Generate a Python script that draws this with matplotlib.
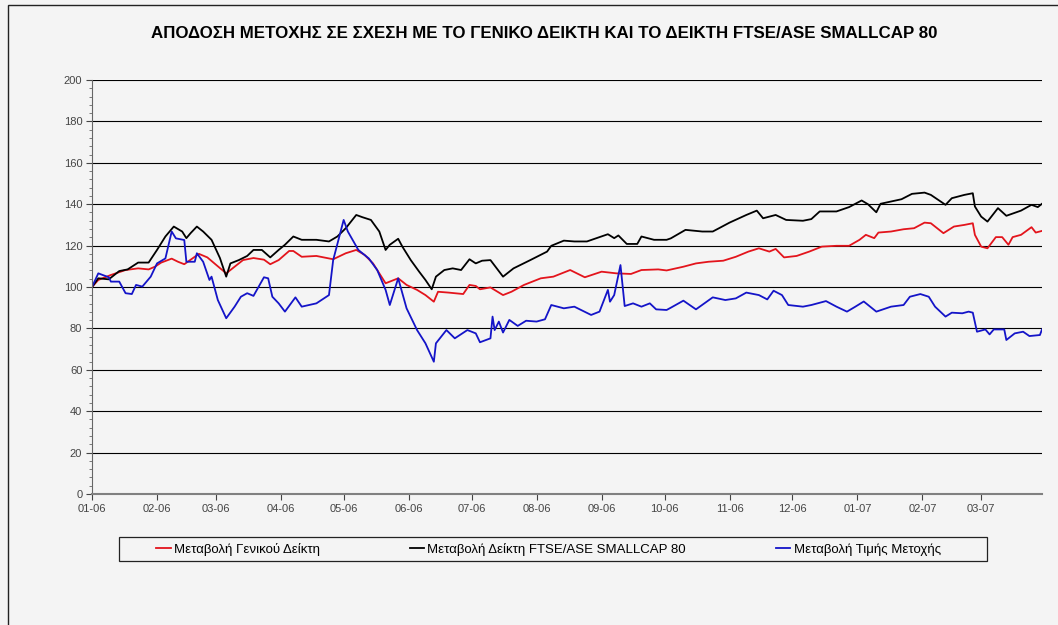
import pandas as pd
import numpy as np
import matplotlib
matplotlib.use("Agg")
import matplotlib.pyplot as plt
import matplotlib.dates as mdates
from matplotlib.ticker import MultipleLocator
from matplotlib.patches import Rectangle

# Δεδομένα (εκτίμηση από το γράφημα) - βάση 100 την 01/01/2006
genikos_dates = [
    "2006-01-01", "2006-01-04", "2006-01-10", "2006-01-17", "2006-01-23", "2006-01-28",
    "2006-01-31", "2006-02-03", "2006-02-08", "2006-02-11", "2006-02-14", "2006-02-19",
    "2006-02-21", "2006-02-25", "2006-03-02", "2006-03-06", "2006-03-10", "2006-03-14",
    "2006-03-19", "2006-03-24", "2006-03-27", "2006-03-31", "2006-04-05", "2006-04-07",
    "2006-04-11", "2006-04-18", "2006-04-26", "2006-05-02", "2006-05-07", "2006-05-11",
    "2006-05-15", "2006-05-18", "2006-05-21", "2006-05-23", "2006-05-27", "2006-05-31",
    "2006-06-05", "2006-06-09", "2006-06-13", "2006-06-15", "2006-06-20", "2006-06-27",
    "2006-06-30", "2006-07-03", "2006-07-05", "2006-07-10", "2006-07-16", "2006-07-20",
    "2006-07-26", "2006-08-03", "2006-08-09", "2006-08-17", "2006-08-24", "2006-09-01",
    "2006-09-08", "2006-09-15", "2006-09-20", "2006-09-28", "2006-10-02", "2006-10-10",
    "2006-10-16", "2006-10-22", "2006-10-29", "2006-11-04", "2006-11-10", "2006-11-15",
    "2006-11-20", "2006-11-23", "2006-11-27", "2006-12-03", "2006-12-09", "2006-12-15",
    "2006-12-22", "2006-12-28", "2007-01-02", "2007-01-05", "2007-01-09", "2007-01-11",
    "2007-01-17", "2007-01-23", "2007-01-28", "2007-02-02", "2007-02-05", "2007-02-11",
    "2007-02-16", "2007-02-21", "2007-02-25", "2007-02-26", "2007-03-01", "2007-03-04",
    "2007-03-08", "2007-03-11", "2007-03-14", "2007-03-16", "2007-03-20", "2007-03-25",
    "2007-03-27", "2007-03-30",
]
genikos = [
    100, 103.4, 105.8, 108.2, 109, 108.5,
    109.8, 111.8, 113.7, 112.2, 111, 114.6,
    116, 114.3, 110, 106.6, 109.8, 113,
    114, 113.2, 111, 113, 117.4, 117.4,
    114.6, 115, 113.4, 116.3, 117.9, 115.5,
    111.4, 106.6, 101.8, 102.6, 104.2, 101,
    98.6, 96.1, 92.9, 97.7, 97.3, 96.6,
    101, 100.5, 98.9, 99.8, 96.1, 97.7,
    101, 104.2, 105, 108.2, 104.7, 107.4,
    106.6, 106.3, 108.2, 108.5, 108, 109.8,
    111.4, 112.2, 112.7, 114.6, 117.1, 118.7,
    117.1, 118.4, 114.3, 115, 117.1, 119.5,
    119.9, 119.9, 122.8, 125.2, 123.6, 126.3,
    126.8, 127.9, 128.4, 131.1, 130.8, 126,
    129.2, 130, 130.8, 125.2, 119.5, 118.7,
    124.1, 124.1, 120.4, 124.1, 125.2, 128.9,
    126.3, 127.1,
]

smallcap_dates = [
    "2006-01-01", "2006-01-04", "2006-01-09", "2006-01-14", "2006-01-18", "2006-01-23",
    "2006-01-28", "2006-02-01", "2006-02-05", "2006-02-09", "2006-02-13", "2006-02-15",
    "2006-02-17", "2006-02-20", "2006-02-23", "2006-02-27", "2006-03-03", "2006-03-06",
    "2006-03-08", "2006-03-12", "2006-03-16", "2006-03-19", "2006-03-23", "2006-03-27",
    "2006-03-31", "2006-04-03", "2006-04-07", "2006-04-11", "2006-04-18", "2006-04-24",
    "2006-04-28", "2006-05-02", "2006-05-07", "2006-05-10", "2006-05-14", "2006-05-18",
    "2006-05-21", "2006-05-23", "2006-05-27", "2006-05-29", "2006-06-02", "2006-06-06",
    "2006-06-09", "2006-06-12", "2006-06-14", "2006-06-18", "2006-06-22", "2006-06-26",
    "2006-06-30", "2006-07-03", "2006-07-06", "2006-07-10", "2006-07-16", "2006-07-21",
    "2006-07-29", "2006-08-06", "2006-08-08", "2006-08-14", "2006-08-19", "2006-08-25",
    "2006-09-04", "2006-09-07", "2006-09-09", "2006-09-13", "2006-09-18", "2006-09-20",
    "2006-09-26", "2006-10-02", "2006-10-04", "2006-10-11", "2006-10-19", "2006-10-24",
    "2006-10-27", "2006-11-01", "2006-11-09", "2006-11-14", "2006-11-17", "2006-11-23",
    "2006-11-28", "2006-12-06", "2006-12-10", "2006-12-14", "2006-12-22", "2006-12-28",
    "2007-01-03", "2007-01-06", "2007-01-10", "2007-01-12", "2007-01-17", "2007-01-22",
    "2007-01-27", "2007-02-02", "2007-02-05", "2007-02-12", "2007-02-15", "2007-02-21",
    "2007-02-25", "2007-02-26", "2007-03-01", "2007-03-04", "2007-03-09", "2007-03-13",
    "2007-03-20", "2007-03-25", "2007-03-28", "2007-03-30",
]
smallcap = [
    100, 104.2, 103.7, 107.7, 108.5, 111.8,
    111.8, 117.9, 124.4, 129.2, 126.8, 123.6,
    126, 129.2, 126.8, 122.8, 114, 105,
    111.4, 113, 115, 117.9, 117.9, 114.3,
    117.9, 120.4, 124.4, 122.8, 122.8, 122,
    124.4, 128.4, 134.8, 133.7, 132.4, 126.8,
    117.9, 120.4, 123.3, 119.5, 113, 107.4,
    103.4, 98.9, 105, 108.2, 109, 108.2,
    113.4, 111.4, 112.7, 113, 105, 109,
    113, 117.1, 119.9, 122.4, 122, 122,
    125.5, 123.6, 124.9, 120.8, 120.8, 124.4,
    122.8, 122.8, 123.5, 127.6, 126.8, 126.8,
    128.4, 131.1, 134.8, 136.9, 133.2, 134.8,
    132.4, 132, 132.8, 136.5, 136.5, 138.6,
    141.8, 140, 136.1, 140.2, 141.3, 142.4,
    145, 145.6, 144.5, 139.7, 142.9, 144.5,
    145.3, 138.9, 134, 131.6, 138.1, 134.4,
    136.9, 139.7, 138.6, 140.2,
]

metoxi_dates = [
    "2006-01-01", "2006-01-04", "2006-01-09", "2006-01-10", "2006-01-14", "2006-01-17",
    "2006-01-20", "2006-01-22", "2006-01-25", "2006-01-29", "2006-02-01", "2006-02-05",
    "2006-02-08", "2006-02-10", "2006-02-14", "2006-02-15", "2006-02-19", "2006-02-20",
    "2006-02-23", "2006-02-26", "2006-02-27", "2006-03-02", "2006-03-06", "2006-03-10",
    "2006-03-13", "2006-03-16", "2006-03-19", "2006-03-24", "2006-03-26", "2006-03-28",
    "2006-03-31", "2006-04-03", "2006-04-08", "2006-04-11", "2006-04-18", "2006-04-24",
    "2006-04-26", "2006-05-01", "2006-05-03", "2006-05-08", "2006-05-13", "2006-05-17",
    "2006-05-21", "2006-05-23", "2006-05-27", "2006-05-31", "2006-06-05", "2006-06-09",
    "2006-06-13", "2006-06-14", "2006-06-19", "2006-06-23", "2006-06-29", "2006-07-03",
    "2006-07-05", "2006-07-10", "2006-07-11", "2006-07-12", "2006-07-14", "2006-07-16",
    "2006-07-19", "2006-07-23", "2006-07-27", "2006-08-01", "2006-08-05", "2006-08-08",
    "2006-08-14", "2006-08-19", "2006-08-27", "2006-08-31", "2006-09-04", "2006-09-05",
    "2006-09-07", "2006-09-10", "2006-09-12", "2006-09-16", "2006-09-20", "2006-09-24",
    "2006-09-27", "2006-10-02", "2006-10-04", "2006-10-10", "2006-10-16", "2006-10-24",
    "2006-10-30", "2006-11-04", "2006-11-09", "2006-11-15", "2006-11-19", "2006-11-22",
    "2006-11-26", "2006-11-29", "2006-12-06", "2006-12-10", "2006-12-17", "2006-12-22",
    "2006-12-27", "2006-12-31", "2007-01-04", "2007-01-10", "2007-01-17", "2007-01-23",
    "2007-01-26", "2007-01-31", "2007-02-04", "2007-02-07", "2007-02-12", "2007-02-15",
    "2007-02-20", "2007-02-23", "2007-02-25", "2007-02-27", "2007-03-03", "2007-03-05",
    "2007-03-07", "2007-03-12", "2007-03-13", "2007-03-17", "2007-03-21", "2007-03-24",
    "2007-03-29", "2007-03-30",
]
metoxi = [
    100, 106.6, 104.7, 102.6, 102.6, 97,
    96.6, 101, 100.2, 105, 111.4, 113.8,
    126.8, 123.5, 122.7, 112.2, 112.2, 116.3,
    112.2, 103.4, 105, 93.7, 84.9, 90.5,
    95.3, 97, 95.7, 104.7, 104.2, 95.3,
    92.1, 88.1, 95, 90.5, 92.1, 96.1,
    113, 132.4, 126.8, 117.9, 113.8, 108.2,
    98.6, 91.3, 104.2, 89.7, 79.2, 72.8,
    63.9, 72.8, 79.2, 75.2, 79.2, 77.6,
    73.3, 75.2, 85.7, 79.2, 83.3, 78,
    84.1, 81.2, 83.7, 83.3, 84.4, 91.3,
    89.7, 90.5, 86.5, 88.1, 98.6, 92.9,
    96.1, 110.6, 90.8, 92.1, 90.5, 92.1,
    89.2, 88.9, 90, 93.4, 89.2, 95,
    93.7, 94.5, 97.3, 96.1, 94, 98.2,
    96.1, 91.3, 90.5, 91.3, 93.2, 90.5,
    88.1, 90.5, 93, 88.1, 90.5, 91.3,
    95.3, 96.6, 95.3, 90.5, 85.7, 87.6,
    87.3, 88.1, 87.6, 78.4, 79.5, 77.1,
    79.5, 79.5, 74.4, 77.6, 78.4, 76.3,
    76.8, 79.5,
]

titlos = "ΑΠΟΔΟΣΗ ΜΕΤΟΧΗΣ ΣΕ ΣΧΕΣΗ ΜΕ ΤΟ ΓΕΝΙΚΟ ΔΕΙΚΤΗ ΚΑΙ ΤΟ ΔΕΙΚΤΗ FTSE/ASE SMALLCAP 80"
onomata = ["Μεταβολή Γενικού Δείκτη",
           "Μεταβολή Δείκτη FTSE/ASE SMALLCAP 80",
           "Μεταβολή Τιμής Μετοχής"]

plt.rcParams['font.family'] = ['Liberation Sans', 'DejaVu Sans']
bg = '#f4f4f4'
W, H = 1058, 625

fig = plt.figure(figsize=(W / 100, H / 100), dpi=100, facecolor=bg)
# πλαίσιο γύρω από το γράφημα
fig.patches.append(Rectangle((8 / W, -0.1), 1.2, 1.1 - 5 / H, transform=fig.transFigure,
                             fill=False, edgecolor='#222222', linewidth=1.0))
# πλαίσιο υπομνήματος
fig.patches.append(Rectangle((119 / W, 1 - 561 / H), (987 - 119) / W, 24 / H,
                             transform=fig.transFigure, fill=False,
                             edgecolor='#222222', linewidth=0.9))

ax = fig.add_axes([92 / W, 1 - 494 / H, (1042 - 92) / W, (494 - 80) / H])
ax.set_facecolor(bg)

ax.plot(pd.to_datetime(genikos_dates), genikos, color='#e3141c', lw=1.3)
ax.plot(pd.to_datetime(smallcap_dates), smallcap, color='black', lw=1.3)
ax.plot(pd.to_datetime(metoxi_dates), metoxi, color='#1414c8', lw=1.3)

ax.set_ylim(0, 200)
ax.set_xlim(pd.Timestamp('2006-01-01'), pd.Timestamp('2007-03-30'))
ax.yaxis.set_major_locator(MultipleLocator(20))
ax.yaxis.set_minor_locator(MultipleLocator(4))
ax.xaxis.set_major_locator(mdates.MonthLocator())
ax.xaxis.set_major_formatter(mdates.DateFormatter('%m-%y'))
ax.grid(axis='y', color='black', lw=0.8)
ax.set_axisbelow(True)

for s in ['top', 'right']:
    ax.spines[s].set_visible(False)
ax.spines['left'].set_color('#666666')
ax.spines['bottom'].set_color('#808080')
ax.spines['bottom'].set_linewidth(1.5)
ax.tick_params(axis='both', which='major', labelsize=8, colors='#444444', length=4, pad=3)
ax.tick_params(axis='y', which='minor', length=2.5, color='#666666')

fig.text(544 / W, 1 - 33 / H, titlos, ha='center', va='center', fontsize=12.2, fontweight='bold')

handles = ax.get_lines()
fig.legend(handles, onomata, loc='center left', bbox_to_anchor=(156 / W, 1 - 549 / H), ncol=3,
           fontsize=9.5, handlelength=1.1, handletextpad=0.25, columnspacing=6.8,
           frameon=False, borderpad=0, borderaxespad=0)

fig.savefig('out.png', dpi=100, facecolor=bg)
